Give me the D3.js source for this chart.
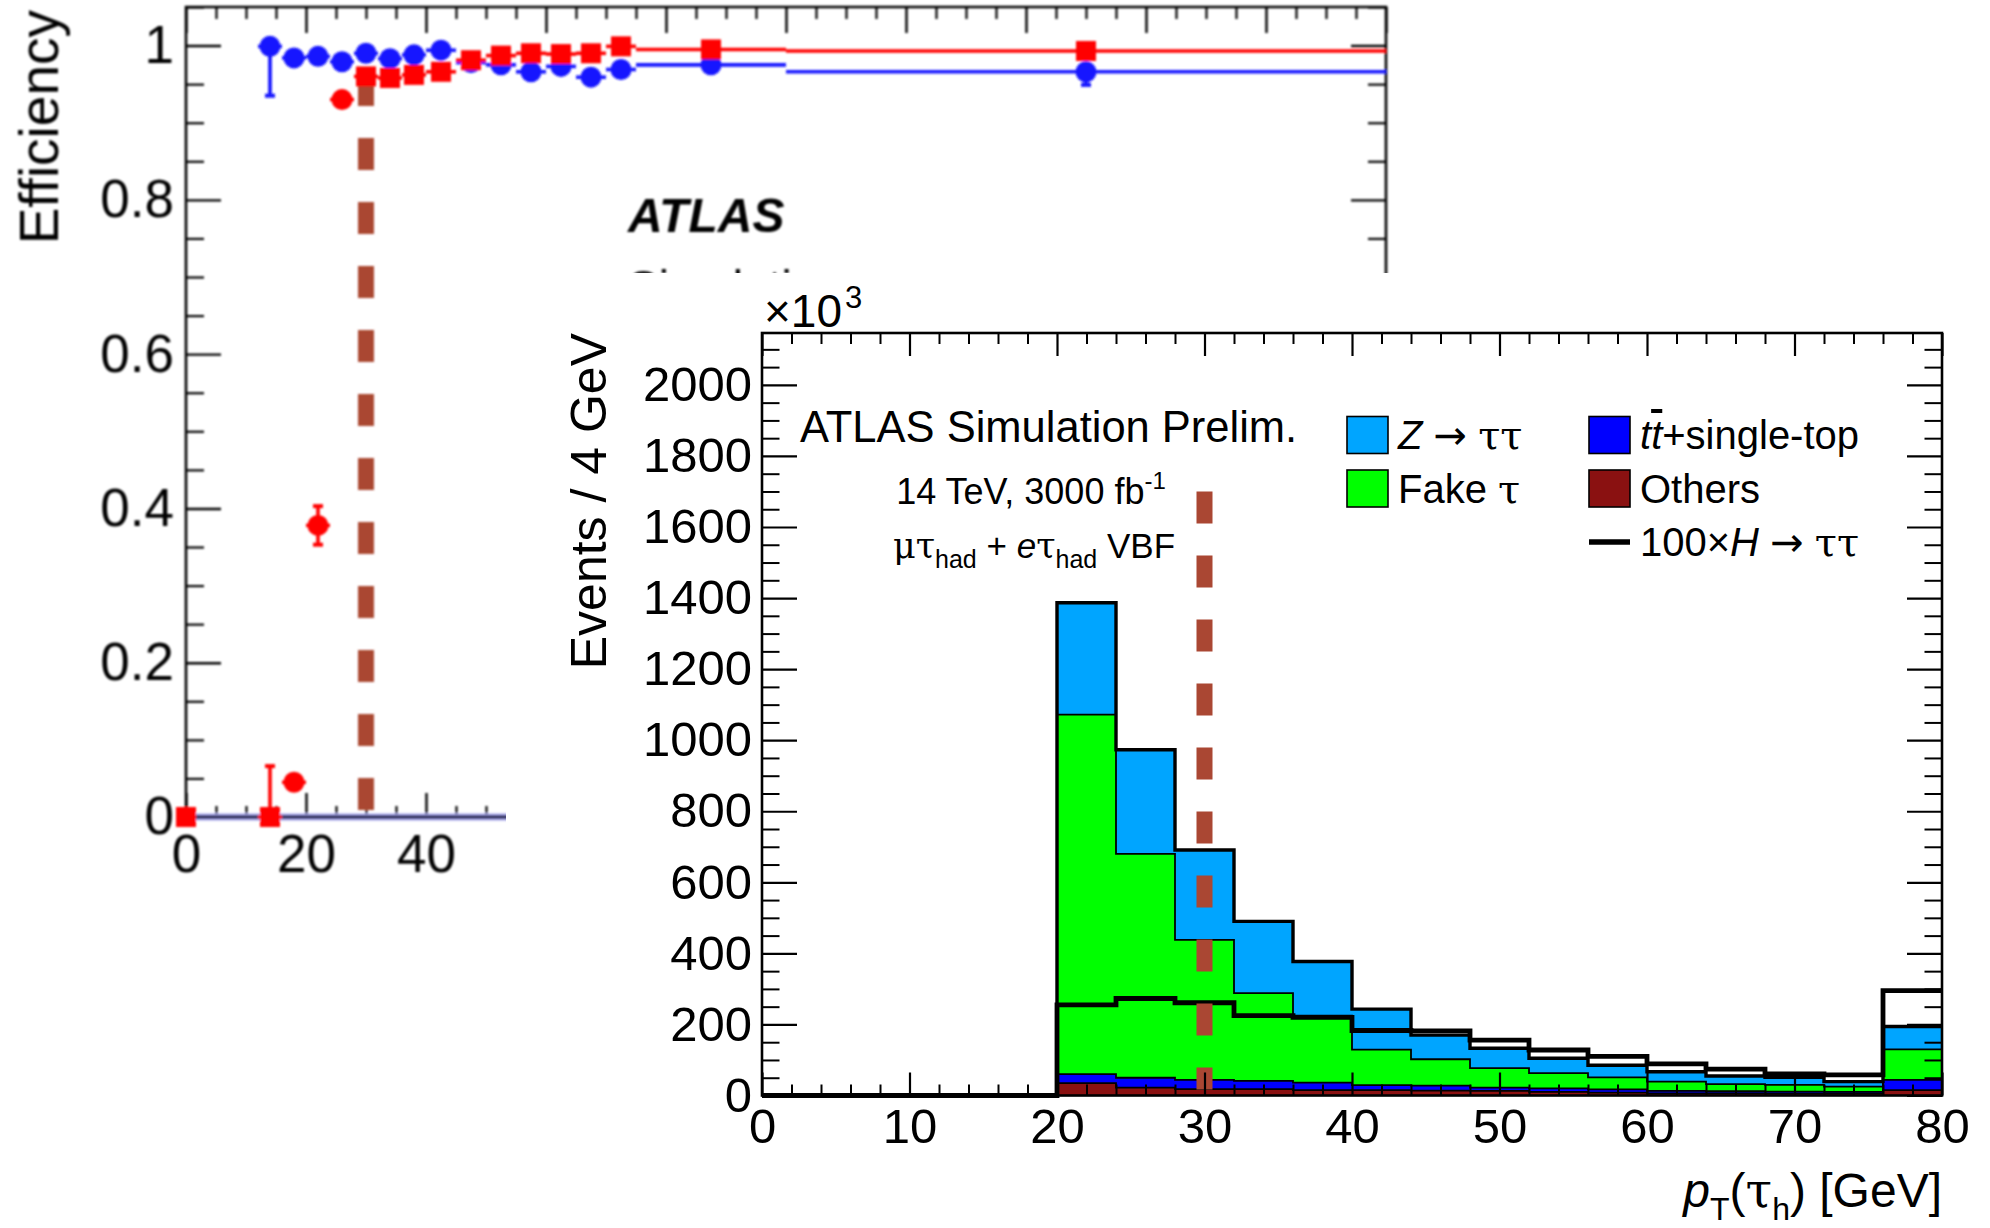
<!DOCTYPE html>
<html>
<head>
<meta charset="utf-8">
<title>Tau trigger efficiency and p_T(tau_h) distribution</title>
<script src="https://cdn.jsdelivr.net/npm/d3@7"></script>
<style>
  html, body { margin: 0; padding: 0; background: #fff; }
  svg { display: block; }
</style>
</head>
<body>
<svg id="chart" width="1990" height="1228" xmlns="http://www.w3.org/2000/svg"></svg>
<script>
// ===================== Efficiency panel (behind) =====================
// pT bins [low, high] in GeV
const effBins = [[12,16],[16,20],[20,24],[24,28],[28,32],[32,36],[36,40],[40,45],[45,50],[50,55],[55,60],[60,65],[65,70],[70,75],[75,100],[100,200]];
// blue series (circles)
const effBlue      = [0.999,0.984,0.986,0.979,0.990,0.983,0.988,0.994,0.978,0.975,0.966,0.973,0.959,0.969,0.975,0.966];
const effBlueErrLo = [0.064,0.004,0.004,0.004,0.004,0.004,0.004,0.004,0.005,0.005,0.006,0.006,0.007,0.007,0.006,0.017];
const effBlueErrHi = [0.001,0.004,0.004,0.004,0.004,0.004,0.004,0.004,0.005,0.005,0.006,0.006,0.007,0.007,0.006,0.010];
// red series, turn-on points (circles)
const effRedTurnBins  = [[16,20],[20,24],[24,28]];
const effRedTurn      = [0.045,0.378,0.930];
const effRedTurnErr   = [0.012,0.025,0.006];
// red series, remaining points (squares)
const effRedBins   = [[0,0],[12,16],[28,32],[32,36],[36,40],[40,45],[45,50],[50,55],[55,60],[60,65],[65,70],[70,75],[75,100],[100,200]];
const effRed       = [0,0,0.960,0.958,0.962,0.966,0.981,0.987,0.990,0.989,0.990,0.999,0.995,0.993];
const effRedErrLo  = [0,0,0.005,0.005,0.005,0.005,0.004,0.004,0.004,0.004,0.004,0.003,0.003,0.004];
const effRedErrHi  = [0,0.066,0.005,0.005,0.005,0.005,0.004,0.004,0.004,0.004,0.004,0.001,0.003,0.004];
// threshold marker
const effCut = {pt: 30, top: 0.963};
// axis ticks
const effYTicks = [0,0.2,0.4,0.6,0.8,1];
const effYTickLabels = ["0","0.2","0.4","0.6","0.8","1"];
const effXTicks = [0,20,40];
const effXTickLabels = ["0","20","40"];

// ===================== pT(tau_h) stacked histogram (front) =====================
const ptEdges = [0,4,8,12,16,20,24,28,32,36,40,44,48,52,56,60,64,68,72,76,80];
// events per 4 GeV, in units of 10^3
const others   = [0,0,0,0,0, 35,22,18,18,15,15,14,13,10,8,6,6,5,5,15];
const ttbar    = [0,0,0,0,0, 25,28,26,23,21,14,14,9,10,9,7,6,6,5,29];
const fakeTau  = [0,0,0,0,0, 1012,630,394,247,189,100,74,55,43,34,26,20,19,15,86];
const zTauTau  = [0,0,0,0,0, 315,293,253,202,152,114,68,56,42,34,28,23,21,14,64];
const higgs100 = [0,0,0,0,0, 255,273,261,225,220,183,182,156,128,110,89,74,61,58,295];
const ptCut = {pt: 30, top: 1700};
const histYTicks = [0,200,400,600,800,1000,1200,1400,1600,1800,2000];
const histYTickLabels = ["0","200","400","600","800","1000","1200","1400","1600","1800","2000"];
const histXTicks = [0,10,20,30,40,50,60,70,80];
const histXTickLabels = ["0","10","20","30","40","50","60","70","80"];
const legendLabels = {
  ztt: "Z → ττ", fake: "Fake τ", ttbar: "tt̄+single-top", others: "Others", higgs: "100×H → ττ"
};

// ---------------------------------------------------------------
const SANS = '"Liberation Sans", Arial, Helvetica, sans-serif';
const GREEK = '"DejaVu Serif", "Liberation Serif", serif';
const ARROW = '"DejaVu Sans", sans-serif';
const colors = {ztt: "#00a5ff", fake: "#00ff00", ttbar: "#0000ff", others: "#8a1111",
                blue: "#1414ff", red: "#ff0000", cut: "#aa4733"};

const svg = d3.select("#chart").attr("font-family", SANS);
svg.append("rect").attr("width", 1990).attr("height", 1228).attr("fill", "#fff");
svg.append("defs").append("filter").attr("id", "soft")
  .append("feGaussianBlur").attr("stdDeviation", 0.8);

function axisG(parent, axis, tx, ty, fontSize, strokeW) {
  const g = parent.append("g").attr("transform", `translate(${tx},${ty})`).call(axis);
  g.attr("font-family", null).attr("font-size", null);
  g.select(".domain").remove();
  g.selectAll(".tick line").attr("stroke", "#000").attr("stroke-width", strokeW);
  g.selectAll(".tick text").attr("fill", "#000").attr("font-size", fontSize);
  return g;
}

// ===================== Efficiency panel =====================
const xL = d3.scaleLinear().domain([0, 200]).range([186, 1386]);
const yL = d3.scaleLinear().domain([0, 1.05]).range([817, 7]);
const gE = svg.append("g").attr("filter", "url(#soft)");

const effYMinor = d3.range(1, 22).map(i => i * 0.05).filter(v => Math.abs(v * 5 - Math.round(v * 5)) > 1e-6);
const effXMajor = d3.range(0, 201, 20);
const effXMinor = d3.range(0, 201, 5).filter(v => v % 20 !== 0);

axisG(gE, d3.axisLeft(yL).tickValues(effYMinor).tickSize(-18).tickFormat(""), xL(0), 0, 0, 2.2);
axisG(gE, d3.axisLeft(yL).tickValues(effYTicks).tickSize(-35).tickPadding(12)
  .tickFormat((d, i) => effYTickLabels[i]), xL(0), 0, 53, 2.4);
axisG(gE, d3.axisRight(yL).tickValues(effYMinor).tickSize(-18).tickFormat(""), xL(200), 0, 0, 2.2);
axisG(gE, d3.axisRight(yL).tickValues(effYTicks).tickSize(-35).tickFormat(""), xL(200), 0, 0, 2.4);
axisG(gE, d3.axisTop(xL).tickValues(effXMinor).tickSize(-12).tickFormat(""), 0, yL(1.05), 0, 2.2);
axisG(gE, d3.axisTop(xL).tickValues(effXMajor).tickSize(-26).tickFormat(""), 0, yL(1.05), 0, 2.4);
axisG(gE, d3.axisBottom(xL).tickValues(effXMinor).tickSize(-11).tickFormat(""), 0, yL(0), 0, 2.2);
axisG(gE, d3.axisBottom(xL).tickValues(effXMajor).tickSize(-24).tickPadding(17)
  .tickFormat(d => { const k = effXTicks.indexOf(d); return k >= 0 ? effXTickLabels[k] : ""; }),
  0, yL(0), 53, 2.4);

// frame
gE.append("path")
  .attr("d", `M${xL(0)},${yL(0)}V${yL(1.05)}H${xL(200)}V${yL(0)}`)
  .attr("fill", "none").attr("stroke", "#000").attr("stroke-width", 2.6);
gE.append("line").attr("x1", xL(0)).attr("x2", xL(200)).attr("y1", yL(0)).attr("y2", yL(0))
  .attr("stroke", "#a4a4ec").attr("stroke-width", 7);
gE.append("line").attr("x1", xL(0)).attr("x2", xL(200)).attr("y1", yL(0)).attr("y2", yL(0))
  .attr("stroke", "#14143c").attr("stroke-width", 3);

gE.append("text").attr("transform", `translate(58,${yL(1.05) + 3}) rotate(-90)`)
  .attr("text-anchor", "end").attr("font-size", 55).attr("fill", "#000").text("Efficiency");
gE.append("text").attr("x", 628).attr("y", 232).attr("font-size", 48)
  .attr("font-weight", "bold").attr("font-style", "italic").attr("fill", "#000").text("ATLAS");
gE.append("text").attr("x", 628).attr("y", 303).attr("font-size", 46).attr("fill", "#000").text("Simulation");

// threshold line
gE.append("line").attr("x1", xL(effCut.pt)).attr("x2", xL(effCut.pt))
  .attr("y1", yL(effCut.top)).attr("y2", yL(0) - 5)
  .attr("stroke", colors.cut).attr("stroke-width", 16).attr("stroke-dasharray", "32,32");

function effSeries(bins, vals, errLo, errHi, color, marker) {
  const g = gE.append("g");
  const cx = i => xL((bins[i][0] + bins[i][1]) / 2);
  g.selectAll("line.h").data(vals).join("line").attr("class", "h")
    .attr("x1", (d, i) => xL(bins[i][0])).attr("x2", (d, i) => xL(bins[i][1]))
    .attr("y1", d => yL(d)).attr("y2", d => yL(d))
    .attr("stroke", color).attr("stroke-width", 3.6);
  g.selectAll("line.v").data(vals).join("line").attr("class", "v")
    .attr("x1", (d, i) => cx(i)).attr("x2", (d, i) => cx(i))
    .attr("y1", (d, i) => yL(d - errLo[i])).attr("y2", (d, i) => yL(d + errHi[i]))
    .attr("stroke", color).attr("stroke-width", 3.6);
  // end caps on the longer error bars
  const caps = [];
  vals.forEach((d, i) => {
    if (errLo[i] > 0.015) caps.push({i, v: d - errLo[i]});
    if (errHi[i] > 0.015) caps.push({i, v: d + errHi[i]});
  });
  g.selectAll("line.c").data(caps).join("line").attr("class", "c")
    .attr("x1", c => cx(c.i) - 5).attr("x2", c => cx(c.i) + 5)
    .attr("y1", c => yL(c.v)).attr("y2", c => yL(c.v))
    .attr("stroke", color).attr("stroke-width", 4);
  if (marker === "circle") {
    g.selectAll("circle").data(vals).join("circle")
      .attr("cx", (d, i) => cx(i)).attr("cy", d => yL(d)).attr("r", 10.5).attr("fill", color);
  } else {
    g.selectAll("rect").data(vals).join("rect")
      .attr("x", (d, i) => cx(i) - 10).attr("y", d => yL(d) - 10)
      .attr("width", 20).attr("height", 20).attr("fill", color);
  }
}
effSeries(effBins, effBlue, effBlueErrLo, effBlueErrHi, colors.blue, "circle");
effSeries(effRedTurnBins, effRedTurn, effRedTurnErr, effRedTurnErr, colors.red, "circle");
effSeries(effRedBins, effRed, effRedErrLo, effRedErrHi, colors.red, "square");

// ===================== Histogram panel =====================
svg.append("rect").attr("x", 506).attr("y", 273).attr("width", 1990 - 506).attr("height", 1228 - 273).attr("fill", "#fff");

const xI = d3.scaleLinear().domain([0, 80]).range([762, 1942]);
const yI = d3.scaleLinear().domain([0, 2146]).range([1095.5, 333]);
const gI = svg.append("g");

const rows = others.map((d, i) => ({others: others[i], ttbar: ttbar[i], fake: fakeTau[i], ztt: zTauTau[i]}));
const layers = d3.stack().keys(["others", "ttbar", "fake", "ztt"])(rows);

function stepPts(lo, hi) {
  const pts = [];
  lo.forEach((d, i) => {
    pts.push({x: xI(ptEdges[i]), y0: yI(lo[i]), y1: yI(hi[i])});
    pts.push({x: xI(ptEdges[i + 1]), y0: yI(lo[i]), y1: yI(hi[i])});
  });
  return pts;
}
const area = d3.area().x(d => d.x).y0(d => d.y0).y1(d => d.y1);
const topLine = d3.line().x(d => d.x).y(d => d.y1);

layers.forEach(L => {
  const pts = stepPts(L.map(s => s[0]), L.map(s => s[1]));
  gI.append("path").attr("d", area(pts)).attr("fill", colors[L.key]);
});
layers.forEach(L => {
  const pts = stepPts(L.map(s => s[0]), L.map(s => s[1]));
  gI.append("path").attr("d", topLine(pts)).attr("fill", "none")
    .attr("stroke", "#000").attr("stroke-width", 1.8).attr("stroke-linejoin", "miter");
});
// outline of the full stack
const totals = layers[layers.length - 1].map(s => s[1]);
gI.append("path").attr("d", topLine(stepPts(totals.map(() => 0), totals))).attr("fill", "none")
  .attr("stroke", "#000").attr("stroke-width", 3.4).attr("stroke-linejoin", "miter");
// 100 x H -> tautau
gI.append("path").attr("d", topLine(stepPts(higgs100.map(() => 0), higgs100))).attr("fill", "none")
  .attr("stroke", "#000").attr("stroke-width", 4.8).attr("stroke-linejoin", "miter");

// threshold line
gI.append("line").attr("x1", xI(ptCut.pt)).attr("x2", xI(ptCut.pt))
  .attr("y1", yI(ptCut.top)).attr("y2", yI(0) - 6)
  .attr("stroke", colors.cut).attr("stroke-width", 16).attr("stroke-dasharray", "32,32");

// axes (ticks point inwards)
const histYMinor = d3.range(0, 2146, 50).filter(v => v % 200 !== 0);
const histXMinor = d3.range(0, 81, 2).filter(v => v % 10 !== 0);
axisG(gI, d3.axisLeft(yI).tickValues(histYMinor).tickSize(-17.5).tickFormat(""), xI(0), 0, 0, 2);
axisG(gI, d3.axisLeft(yI).tickValues(histYTicks).tickSize(-35).tickPadding(10)
  .tickFormat((d, i) => histYTickLabels[i]), xI(0), 0, 49, 2.2);
axisG(gI, d3.axisRight(yI).tickValues(histYMinor).tickSize(-17.5).tickFormat(""), xI(80), 0, 0, 2);
axisG(gI, d3.axisRight(yI).tickValues(histYTicks).tickSize(-35).tickFormat(""), xI(80), 0, 0, 2.2);
axisG(gI, d3.axisTop(xI).tickValues(histXMinor).tickSize(-11).tickFormat(""), 0, yI(2146), 0, 2);
axisG(gI, d3.axisTop(xI).tickValues(histXTicks).tickSize(-23).tickFormat(""), 0, yI(2146), 0, 2.2);
axisG(gI, d3.axisBottom(xI).tickValues(histXMinor).tickSize(-11).tickFormat(""), 0, yI(0), 0, 2);
axisG(gI, d3.axisBottom(xI).tickValues(histXTicks).tickSize(-23).tickPadding(13)
  .tickFormat((d, i) => histXTickLabels[i]), 0, yI(0), 49, 2.2);

gI.append("rect").attr("x", xI(0)).attr("y", yI(2146))
  .attr("width", xI(80) - xI(0)).attr("height", yI(0) - yI(2146))
  .attr("fill", "none").attr("stroke", "#000").attr("stroke-width", 2.6);

// axis titles
const mult = gI.append("text").attr("x", 764).attr("y", 327).attr("font-size", 46).attr("fill", "#000");
mult.append("tspan").text("×10");
mult.append("tspan").attr("font-size", 31).attr("dx", 3).attr("dy", -19).text("3");

gI.append("text").attr("transform", `translate(606,${yI(2146)}) rotate(-90)`)
  .attr("text-anchor", "end").attr("font-size", 50).attr("fill", "#000").text("Events / 4 GeV");

const xt = gI.append("text").attr("x", xI(80)).attr("y", 1207).attr("text-anchor", "end")
  .attr("font-size", 48).attr("fill", "#000");
xt.append("tspan").attr("font-style", "italic").text("p");
xt.append("tspan").attr("font-size", 32).attr("dy", 13).text("T");
xt.append("tspan").attr("dy", -13).text("(");
xt.append("tspan").attr("font-family", GREEK).text("τ");
xt.append("tspan").attr("font-size", 32).attr("dy", 13).text("h");
xt.append("tspan").attr("dy", -13).text(") [GeV]");

// labels
gI.append("text").attr("x", 800).attr("y", 442).attr("font-size", 43.5).attr("fill", "#000")
  .text("ATLAS Simulation Prelim.");
const lum = gI.append("text").attr("x", 1031).attr("y", 504).attr("text-anchor", "middle")
  .attr("font-size", 36).attr("fill", "#000");
lum.append("tspan").text("14 TeV, 3000 fb");
lum.append("tspan").attr("font-size", 24).attr("dy", -15).text("-1");
const chan = gI.append("text").attr("x", 1034).attr("y", 558).attr("text-anchor", "middle")
  .attr("font-size", 35).attr("fill", "#000");
chan.append("tspan").attr("font-family", GREEK).text("μτ");
chan.append("tspan").attr("font-size", 25).attr("dy", 10).text("had");
chan.append("tspan").attr("dy", -10).text(" + ");
chan.append("tspan").attr("font-style", "italic").text("e");
chan.append("tspan").attr("font-family", GREEK).text("τ");
chan.append("tspan").attr("font-size", 25).attr("dy", 10).text("had");
chan.append("tspan").attr("dy", -10).text(" VBF");

// legend
const legendRows = [
  {key: "ztt",    col: 0, row: 0, kind: "box"},
  {key: "fake",   col: 0, row: 1, kind: "box"},
  {key: "ttbar",  col: 1, row: 0, kind: "box"},
  {key: "others", col: 1, row: 1, kind: "box"},
  {key: "higgs",  col: 1, row: 2, kind: "line"}
];
const legX = [1347, 1589], legY0 = 435, legDY = 53.5;
function greekTail(t, s) {
  // " → ττ" style tails: arrow and taus drawn in fonts that carry those glyphs
  s.split("").forEach(ch => {
    if (ch === "→") t.append("tspan").attr("font-family", ARROW).text(ch);
    else if (ch === "τ") t.append("tspan").attr("font-family", GREEK).text(ch);
    else t.append("tspan").text(ch);
  });
}
legendRows.forEach(e => {
  const x = legX[e.col], cy = legY0 + e.row * legDY;
  if (e.kind === "box") {
    gI.append("rect").attr("x", x).attr("y", cy - 18.5).attr("width", 41).attr("height", 37)
      .attr("fill", colors[e.key]).attr("stroke", "#000").attr("stroke-width", 1.6);
  } else {
    gI.append("line").attr("x1", x).attr("x2", x + 41).attr("y1", cy).attr("y2", cy)
      .attr("stroke", "#000").attr("stroke-width", 5.5);
  }
  const t = gI.append("text").attr("x", x + 51).attr("y", cy + 14).attr("font-size", 40)
    .attr("fill", "#000").attr("xml:space", "preserve");
  const lbl = legendLabels[e.key];
  if (e.key === "ztt") {
    t.append("tspan").attr("font-style", "italic").text("Z");
    greekTail(t, lbl.slice(1));
  } else if (e.key === "fake") {
    greekTail(t, lbl);
  } else if (e.key === "ttbar") {
    t.append("tspan").attr("font-style", "italic").text("t");
    t.append("tspan").attr("font-style", "italic").style("text-decoration", "overline").text("t");
    t.append("tspan").text(lbl.slice(3));
  } else if (e.key === "higgs") {
    t.append("tspan").text("100×");
    t.append("tspan").attr("font-style", "italic").text("H");
    greekTail(t, lbl.slice(5));
  } else {
    t.text(lbl);
  }
});
</script>
</body>
</html>
